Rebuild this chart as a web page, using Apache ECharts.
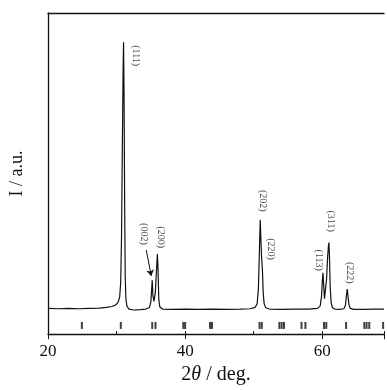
<!DOCTYPE html>
<html>
<head>
<meta charset="utf-8">
<script src="https://cdn.jsdelivr.net/npm/echarts@6/dist/echarts.min.js"></script>
<style>
html, body { margin: 0; padding: 0; background: #fff; }
#chart { width: 387px; height: 390px; }
</style>
</head>
<body>
<div id="chart"></div>
<script>
// XRD profile (2theta in deg, intensity in a.u.)
var twoTheta = [20.0, 21.5, 23.0, 24.5, 26.0, 27.5, 28.5, 29.3, 29.8, 30.2, 30.45, 30.6, 30.72, 30.85, 30.95, 31.02, 31.1, 31.18, 31.26, 31.36, 31.5, 31.8, 32.5, 33.5, 34.3, 34.8, 35.0, 35.12, 35.2, 35.3, 35.45, 35.65, 35.8, 35.95, 36.05, 36.15, 36.3, 36.7, 38, 40, 42, 44, 46, 48, 49.5, 50.2, 50.5, 50.68, 50.82, 50.95, 51.07, 51.17, 51.27, 51.38, 51.52, 51.75, 52.3, 54, 56, 58, 59.3, 59.7, 59.9, 60.02, 60.1, 60.2, 60.32, 60.45, 60.62, 60.78, 60.9, 60.97, 61.05, 61.15, 61.28, 61.45, 61.8, 62.6, 63.15, 63.38, 63.52, 63.64, 63.76, 63.9, 64.1, 64.6, 66, 67.5, 69];
var intensity = [8.0, 7.9, 8.0, 7.9, 8.0, 8.1, 8.3, 8.6, 9.0, 9.8, 11.5, 16, 30, 60, 82, 90.9, 72, 40, 18, 11, 8.8, 7.8, 7.5, 7.6, 7.8, 8.3, 10, 14, 16.8, 12, 10.2, 13, 19, 24.9, 20, 11, 8.5, 7.8, 7.7, 7.8, 7.7, 7.8, 7.7, 7.8, 7.9, 8.3, 9.5, 14, 25, 35.6, 28, 23, 20, 13, 9.5, 8.2, 7.8, 7.7, 7.8, 7.8, 8.0, 8.8, 12, 17, 19.1, 15.5, 11, 11.5, 17, 24, 27.5, 28.5, 24, 15, 10, 8.3, 7.8, 7.7, 7.9, 9, 12, 14, 11.5, 9, 8, 7.7, 7.7, 7.8, 7.8];

// reference reflection markers (2theta)
var refPositions = [24.94, 30.62, 35.2, 35.68, 39.73, 40.0, 43.63, 43.92, 50.85, 51.18, 53.74, 54.08, 54.42, 56.97, 57.54, 60.25, 60.58, 63.47, 66.13, 66.46, 66.85, 68.87];
var refLevel = 2.7;

// peak labels
var hklNames = ['(111)', '(002)', '(200)', '(202)', '(220)', '(113)', '(311)', '(222)'];
var hklTheta = [32.75, 33.97, 36.4, 51.36, 52.44, 59.52, 61.18, 64.05];
var hklLevel = [86.7, 31.2, 30.2, 41.5, 26.5, 23.0, 35.2, 19.1];

var xTicks = [20, 40, 60];

var serif = '"Liberation Serif", "DejaVu Serif", serif';

var profile = [];
twoTheta.forEach(function (v, i) {
    profile.push([v, intensity[i]]);
});
var markers = [];
refPositions.forEach(function (v) {
    markers.push([v, refLevel]);
});
var labels = [];
hklNames.forEach(function (v, i) {
    labels.push({ name: v, value: [hklTheta[i], hklLevel[i]] });
});

var chart = echarts.init(document.getElementById('chart'), null, { renderer: 'canvas' });

var option = {
    animation: false,
    backgroundColor: '#fff',
    grid: { left: 48, right: 0, top: 13, bottom: 53 },
    xAxis: [{
        type: 'value',
        min: 20,
        max: 69,
        interval: 20,
        position: 'bottom',
        name: '{n|2}{t|θ}{n| / deg.}',
        nameLocation: 'middle',
        nameGap: 28,
        nameTextStyle: {
            rich: {
                n: { fontFamily: serif, fontSize: 20, color: '#111' },
                t: { fontFamily: serif, fontSize: 20, fontStyle: 'italic', color: '#111' }
            }
        },
        axisLine: { show: true, lineStyle: { color: '#111', width: 1.3 } },
        axisTick: { show: true, inside: false, length: 5, lineStyle: { color: '#111', width: 1 } },
        axisLabel: {
            fontFamily: serif, fontSize: 17, color: '#111', margin: 9,
            formatter: function (v) { return xTicks.indexOf(v) >= 0 ? v : ''; }
        },
        splitLine: { show: false }
    }, {
        // inner ticks every 10 deg
        type: 'value',
        min: 20,
        max: 69,
        interval: 10,
        position: 'bottom',
        axisLine: { show: false },
        axisTick: { show: true, inside: true, length: 3, lineStyle: { color: '#111', width: 1 } },
        axisLabel: { show: false },
        splitLine: { show: false }
    }, {
        // top frame line
        type: 'value',
        min: 20,
        max: 69,
        position: 'top',
        axisLine: { show: true, lineStyle: { color: '#111', width: 1.3 } },
        axisTick: { show: false },
        axisLabel: { show: false },
        splitLine: { show: false }
    }],
    yAxis: {
        type: 'value',
        min: 0,
        max: 100,
        name: 'I / a.u.',
        nameLocation: 'middle',
        nameGap: 22,
        nameTextStyle: { fontFamily: serif, fontSize: 18, color: '#111' },
        axisLine: { show: true, lineStyle: { color: '#111', width: 1.3 } },
        axisTick: { show: false },
        axisLabel: { show: false },
        splitLine: { show: false }
    },
    series: [{
        name: 'pattern',
        type: 'line',
        data: profile,
        showSymbol: false,
        smooth: false,
        lineStyle: { color: '#111', width: 1.2 },
        markLine: {
            silent: true,
            symbol: ['none', 'arrow'],
            symbolSize: 6,
            label: { show: false },
            lineStyle: { color: '#111', width: 1, type: 'solid' },
            data: [[{ coord: [34.33, 26.2] }, { coord: [35.06, 18.1] }]]
        }
    }, {
        name: 'reflections',
        type: 'scatter',
        data: markers,
        symbol: 'rect',
        symbolSize: [2, 7],
        itemStyle: { color: '#111' }
    }, {
        name: 'hkl',
        type: 'scatter',
        data: labels,
        symbolSize: 0,
        label: {
            show: true,
            position: 'inside',
            rotate: -90,
            formatter: '{b}',
            fontFamily: serif,
            fontSize: 10,
            color: '#111'
        }
    }]
};
chart.setOption(option);
</script>
</body>
</html>
